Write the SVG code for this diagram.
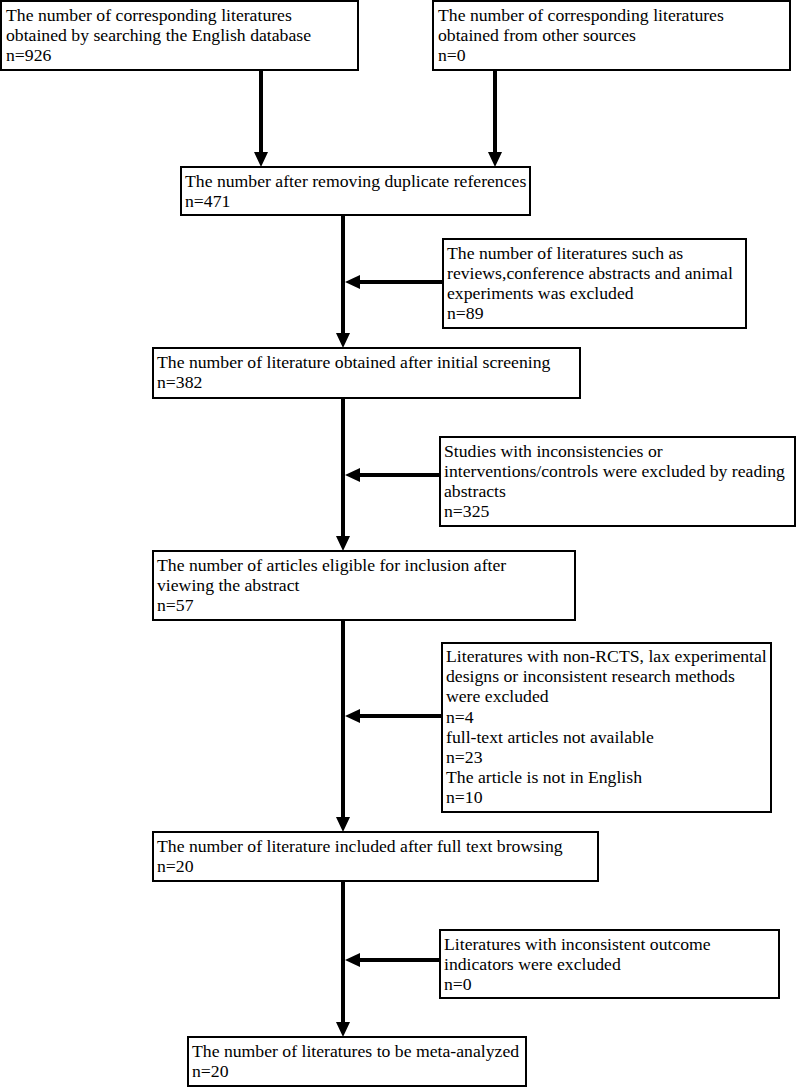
<svg xmlns="http://www.w3.org/2000/svg" width="797" height="1087" viewBox="0 0 797 1087">
<style>
.box{fill:#fff;stroke:#000;stroke-width:2}
.t{font-family:"Liberation Serif","Times New Roman",serif;font-size:17.7px;fill:#000}
.c{stroke:#000;stroke-width:4;fill:none;marker-end:url(#ah)}
</style>
<defs>
<marker id="ah" markerUnits="userSpaceOnUse" markerWidth="15" markerHeight="14" viewBox="0 0 15 14" refX="1" refY="7" orient="auto">
<path d="M0,0 L15,7 L0,14 z" fill="#000"/>
</marker>
</defs>
<rect width="797" height="1087" fill="#fff"/>
<g id="connectors">
<line class="c" x1="261" y1="70" x2="261" y2="153"/>
<line class="c" x1="495" y1="70" x2="495" y2="153"/>
<line class="c" x1="343" y1="215" x2="343" y2="334"/>
<line class="c" x1="343" y1="398" x2="343" y2="537"/>
<line class="c" x1="343" y1="620" x2="343" y2="818"/>
<line class="c" x1="343" y1="881" x2="343" y2="1023"/>
<line class="c" x1="443" y1="282" x2="359" y2="282"/>
<line class="c" x1="440" y1="475" x2="359" y2="475"/>
<line class="c" x1="442" y1="716" x2="359" y2="716"/>
<line class="c" x1="440" y1="960" x2="359" y2="960"/>
</g>
<g id="n1">
<rect class="box" x="1" y="1" width="357" height="69"/>
<text class="t" x="6" y="20.7">The number of corresponding literatures</text>
<text class="t" x="6" y="40.9">obtained by searching the English database</text>
<text class="t" x="6" y="61.1">n=926</text>
</g>
<g id="n2">
<rect class="box" x="433" y="1" width="357" height="69"/>
<text class="t" x="438" y="20.7">The number of corresponding literatures</text>
<text class="t" x="438" y="40.9">obtained from other sources</text>
<text class="t" x="438" y="61.1">n=0</text>
</g>
<g id="n3">
<rect class="box" x="181" y="167" width="349" height="48"/>
<text class="t" x="185" y="186.5">The number after removing duplicate references</text>
<text class="t" x="185" y="206.7">n=471</text>
</g>
<g id="n4">
<rect class="box" x="443" y="239" width="303" height="89"/>
<text class="t" x="447" y="258.5">The number of literatures such as</text>
<text class="t" x="447" y="278.7">reviews,conference abstracts and animal</text>
<text class="t" x="447" y="298.9">experiments was excluded</text>
<text class="t" x="447" y="319.1">n=89</text>
</g>
<g id="n5">
<rect class="box" x="153" y="348" width="427" height="50"/>
<text class="t" x="157" y="368">The number of literature obtained after initial screening</text>
<text class="t" x="157" y="388.2">n=382</text>
</g>
<g id="n6">
<rect class="box" x="440" y="437" width="355" height="89"/>
<text class="t" x="444" y="456.5">Studies with inconsistencies or</text>
<text class="t" x="444" y="476.7">interventions/controls were excluded by reading</text>
<text class="t" x="444" y="496.9">abstracts</text>
<text class="t" x="444" y="517.1">n=325</text>
</g>
<g id="n7">
<rect class="box" x="153" y="551" width="422" height="69"/>
<text class="t" x="157" y="570.5">The number of articles eligible for inclusion after</text>
<text class="t" x="157" y="590.7">viewing the abstract</text>
<text class="t" x="157" y="610.9">n=57</text>
</g>
<g id="n8">
<rect class="box" x="442" y="643" width="329" height="169"/>
<text class="t" x="446" y="662">Literatures with non-RCTS, lax experimental</text>
<text class="t" x="446" y="682.2">designs or inconsistent research methods</text>
<text class="t" x="446" y="702.4">were excluded</text>
<text class="t" x="446" y="722.6">n=4</text>
<text class="t" x="446" y="742.8">full-text articles not available</text>
<text class="t" x="446" y="763">n=23</text>
<text class="t" x="446" y="783.2">The article is not in English</text>
<text class="t" x="446" y="803.4">n=10</text>
</g>
<g id="n9">
<rect class="box" x="153" y="832" width="445" height="49"/>
<text class="t" x="157" y="851.5">The number of literature included after full text browsing</text>
<text class="t" x="157" y="871.7">n=20</text>
</g>
<g id="n10">
<rect class="box" x="440" y="930" width="339" height="68"/>
<text class="t" x="444" y="949.5">Literatures with inconsistent outcome</text>
<text class="t" x="444" y="969.7">indicators were excluded</text>
<text class="t" x="444" y="989.9">n=0</text>
</g>
<g id="n11">
<rect class="box" x="188" y="1037" width="338" height="49"/>
<text class="t" x="192" y="1056.5">The number of literatures to be meta-analyzed</text>
<text class="t" x="192" y="1076.7">n=20</text>
</g>
</svg>
